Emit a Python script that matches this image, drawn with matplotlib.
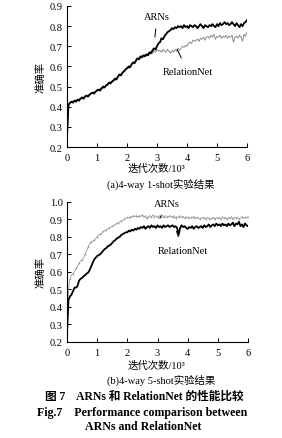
import numpy as np
import matplotlib
matplotlib.use("Agg")
import matplotlib.pyplot as plt

plt.rcParams['font.family'] = ['Liberation Serif', 'Noto Sans CJK SC']
plt.rcParams['axes.unicode_minus'] = False

x = np.linspace(0, 6, 121)

a_arns = [0.25, 0.41, 0.42, 0.425, 0.42, 0.43, 0.425, 0.435, 0.43, 0.44,
          0.445, 0.44, 0.45, 0.455, 0.45, 0.46, 0.465, 0.47, 0.465, 0.475,
          0.48, 0.485, 0.48, 0.49, 0.50, 0.495, 0.505, 0.51, 0.52, 0.515,
          0.525, 0.53, 0.54, 0.535, 0.55, 0.56, 0.555, 0.57, 0.575, 0.585,
          0.59, 0.60, 0.595, 0.61, 0.62, 0.615, 0.63, 0.64, 0.635, 0.65,
          0.645, 0.655, 0.65, 0.66, 0.655, 0.67, 0.665, 0.68, 0.69, 0.685,
          0.70, 0.715, 0.72, 0.74, 0.735, 0.75, 0.76, 0.77, 0.775, 0.78,
          0.79, 0.785, 0.795, 0.79, 0.80, 0.795, 0.80, 0.79, 0.805, 0.795,
          0.80, 0.79, 0.805, 0.80, 0.795, 0.805, 0.80, 0.79, 0.80, 0.81,
          0.80, 0.79, 0.805, 0.80, 0.795, 0.805, 0.80, 0.81, 0.80, 0.795,
          0.81, 0.80, 0.815, 0.805, 0.81, 0.82, 0.81, 0.815, 0.805, 0.81,
          0.82, 0.81, 0.80, 0.815, 0.805, 0.795, 0.81, 0.80, 0.815, 0.82,
          0.83]

a_rel = [0.25, 0.40, 0.415, 0.42, 0.43, 0.425, 0.435, 0.43, 0.44, 0.435,
         0.45, 0.445, 0.455, 0.45, 0.46, 0.455, 0.47, 0.465, 0.475, 0.47,
         0.485, 0.48, 0.49, 0.495, 0.49, 0.50, 0.51, 0.505, 0.515, 0.525,
         0.52, 0.535, 0.53, 0.545, 0.545, 0.555, 0.565, 0.565, 0.58, 0.58,
         0.595, 0.59, 0.605, 0.605, 0.615, 0.625, 0.625, 0.635, 0.645, 0.64,
         0.655, 0.65, 0.66, 0.655, 0.665, 0.66, 0.675, 0.665, 0.68, 0.67,
         0.685, 0.675, 0.68, 0.67, 0.685, 0.675, 0.67, 0.685, 0.675, 0.665,
         0.68, 0.67, 0.685, 0.675, 0.69, 0.68, 0.69, 0.70, 0.695, 0.705,
         0.70, 0.715, 0.72, 0.715, 0.73, 0.725, 0.73, 0.735, 0.725, 0.74,
         0.735, 0.745, 0.73, 0.745, 0.75, 0.74, 0.755, 0.745, 0.76, 0.735,
         0.75, 0.745, 0.755, 0.74, 0.75, 0.745, 0.755, 0.74, 0.75, 0.745,
         0.755, 0.72, 0.745, 0.75, 0.74, 0.755, 0.745, 0.725, 0.76, 0.75,
         0.77]

b_arns = [0.25, 0.50, 0.56, 0.58, 0.59, 0.60, 0.62, 0.63, 0.65, 0.66,
          0.67, 0.68, 0.70, 0.72, 0.74, 0.76, 0.77, 0.775, 0.78, 0.79,
          0.80, 0.81, 0.815, 0.82, 0.83, 0.835, 0.84, 0.845, 0.85, 0.855,
          0.86, 0.865, 0.87, 0.875, 0.88, 0.885, 0.89, 0.895, 0.90, 0.905,
          0.91, 0.905, 0.915, 0.91, 0.92, 0.915, 0.92, 0.91, 0.92, 0.915,
          0.925, 0.91, 0.92, 0.90, 0.915, 0.92, 0.91, 0.925, 0.915, 0.92,
          0.91, 0.92, 0.915, 0.925, 0.91, 0.92, 0.915, 0.91, 0.92, 0.915,
          0.91, 0.92, 0.905, 0.915, 0.91, 0.92, 0.91, 0.915, 0.905, 0.915,
          0.91, 0.90, 0.91, 0.905, 0.915, 0.90, 0.91, 0.905, 0.90, 0.91,
          0.905, 0.91, 0.90, 0.91, 0.905, 0.895, 0.905, 0.91, 0.90, 0.91,
          0.905, 0.91, 0.90, 0.915, 0.905, 0.91, 0.90, 0.91, 0.905, 0.915,
          0.90, 0.91, 0.905, 0.91, 0.90, 0.905, 0.915, 0.905, 0.91, 0.905,
          0.915]

b_rel = [0.25, 0.44, 0.46, 0.47, 0.49, 0.51, 0.51, 0.52, 0.55, 0.56,
         0.565, 0.575, 0.58, 0.59, 0.595, 0.61, 0.63, 0.65, 0.67, 0.68,
         0.69, 0.695, 0.70, 0.71, 0.72, 0.73, 0.735, 0.745, 0.75, 0.755,
         0.765, 0.775, 0.78, 0.79, 0.795, 0.80, 0.81, 0.815, 0.82, 0.825,
         0.825, 0.835, 0.83, 0.84, 0.835, 0.845, 0.84, 0.85, 0.845, 0.855,
         0.85, 0.86, 0.845, 0.855, 0.86, 0.85, 0.865, 0.855, 0.86, 0.85,
         0.865, 0.855, 0.86, 0.85, 0.865, 0.855, 0.86, 0.865, 0.855, 0.86,
         0.865, 0.855, 0.86, 0.85, 0.81, 0.85, 0.865, 0.855, 0.86, 0.85,
         0.845, 0.855, 0.85, 0.86, 0.845, 0.855, 0.86, 0.85, 0.855, 0.86,
         0.85, 0.865, 0.855, 0.86, 0.87, 0.855, 0.865, 0.87, 0.86, 0.875,
         0.865, 0.87, 0.86, 0.875, 0.865, 0.87, 0.86, 0.875, 0.865, 0.87,
         0.88, 0.86, 0.875, 0.87, 0.885, 0.86, 0.87, 0.855, 0.875, 0.865,
         0.86]

xticks = [0, 1, 2, 3, 4, 5, 6]
yticks_a = [0.2, 0.3, 0.4, 0.5, 0.6, 0.7, 0.8, 0.9]
yticks_b = [0.2, 0.3, 0.4, 0.5, 0.6, 0.7, 0.8, 0.9, 1.0]

W, H = 282, 439
fig = plt.figure(figsize=(W / 100, H / 100), dpi=100)
fs = 7.5
cjk = ['Liberation Serif', 'Noto Sans CJK SC']


def style(ax, yt, ylim):
    ax.set_xlim(0, 6)
    ax.set_ylim(*ylim)
    ax.set_xticks(xticks)
    ax.set_yticks(yt)
    ax.set_xticklabels([str(v) for v in xticks], fontsize=fs)
    ax.set_yticklabels([f"{v:.1f}" for v in yt], fontsize=fs)
    for s in ['top', 'right']:
        ax.spines[s].set_visible(False)
    for s in ['left', 'bottom']:
        ax.spines[s].set_linewidth(0.8)
    ax.tick_params(direction='in', length=3, width=0.7)
    ax.tick_params(axis='x', pad=4)
    ax.tick_params(axis='y', pad=3)
    ax.set_ylabel('准确率', family=cjk, fontsize=fs, labelpad=3)


# top panel
ax1 = fig.add_axes([67 / W, 1 - 148 / H, 180 / W, 141 / H])
ax1.plot(x, a_rel, color='#8a8a8a', lw=0.7)
ax1.plot(x, a_arns, color='black', lw=1.3)
style(ax1, yticks_a, (0.2, 0.9))
ax1.annotate('ARNs', xy=(2.93, 0.745), xytext=(3.0, 0.85), fontsize=fs,
             ha='center', va='center',
             arrowprops=dict(arrowstyle='-', lw=0.7, color='black', shrinkA=4, shrinkB=0))
ax1.annotate('RelationNet', xy=(3.67, 0.685), xytext=(4.03, 0.575), fontsize=fs,
             ha='center', va='center',
             arrowprops=dict(arrowstyle='-', lw=0.7, color='black', shrinkA=5, shrinkB=0))

# bottom panel
ax2 = fig.add_axes([67 / W, 1 - 343 / H, 181 / W, 140.4 / H])
ax2.plot(x, b_arns, color='#999999', lw=0.6, marker='+', markersize=1.8,
         markeredgewidth=0.4, markevery=2)
ax2.plot(x, b_rel, color='black', lw=1.3)
style(ax2, yticks_b, (0.2, 1.0))
ax2.annotate('ARNs', xy=(3.08, 0.905), xytext=(3.31, 0.99), fontsize=fs,
             ha='center', va='center',
             arrowprops=dict(arrowstyle='-', lw=0.7, color='black', shrinkA=4, shrinkB=0))
ax2.annotate('RelationNet', xy=(3.63, 0.83), xytext=(3.85, 0.72), fontsize=fs,
             ha='center', va='center',
             arrowprops=dict(arrowstyle='-', lw=0.7, color='black', shrinkA=5, shrinkB=0))


def ftext(px, py, s, **kw):
    fig.text(px / W, 1 - py / H, s, ha='center', va='center', family=cjk, **kw)


ftext(156, 169, '迭代次数/10³', fontsize=fs)
ftext(161, 184, '(a)4-way 1-shot实验结果', fontsize=fs)
ftext(156, 366, '迭代次数/10³', fontsize=fs)
ftext(161, 380, '(b)4-way 5-shot实验结果', fontsize=fs)

ftext(144, 397, '图 7    ARNs 和 RelationNet 的性能比较', fontsize=8.4, fontweight='bold')
ftext(142, 413, 'Fig.7    Performance comparison between', fontsize=8.6, fontweight='bold')
ftext(143, 427, 'ARNs and RelationNet', fontsize=8.6, fontweight='bold')

fig.savefig('out.png', dpi=100)
